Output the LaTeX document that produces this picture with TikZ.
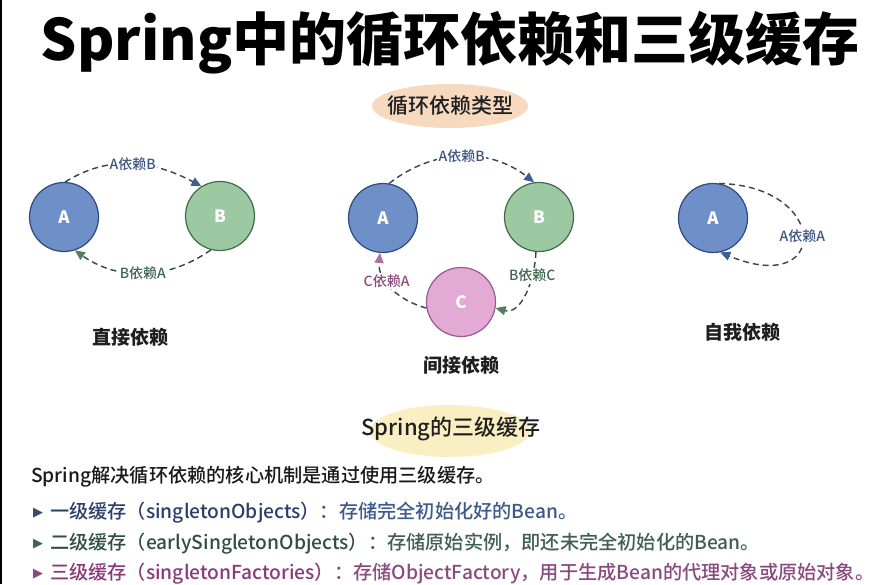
\documentclass[tikz,border=0pt]{standalone}
\usepackage{fontspec}
\setmainfont{Noto Sans CJK SC}
\setsansfont{Noto Sans CJK SC}
\newfontfamily\med{Noto Sans CJK SC Medium}
\newfontfamily\dejavu{DejaVu Sans}
\usetikzlibrary{arrows.meta,shapes.geometric}
\definecolor{blueFill}{HTML}{6F8FC8}
\definecolor{blueLine}{HTML}{2E4A80}
\definecolor{greenFill}{HTML}{9DC9A2}
\definecolor{greenLine}{HTML}{3F6B4A}
\definecolor{pinkFill}{HTML}{E3AAD6}
\definecolor{pinkLine}{HTML}{9A5A8E}
\definecolor{dashGray}{HTML}{3A4250}
\definecolor{blueTip}{HTML}{3E5F95}
\definecolor{greenTip}{HTML}{4F7F5C}
\definecolor{pinkTip}{HTML}{B06FA0}
\definecolor{blueText}{HTML}{3D5580}
\definecolor{greenText}{HTML}{3F6650}
\definecolor{pinkText}{HTML}{8A4A7E}
\definecolor{peach}{HTML}{F6D9BF}
\definecolor{cream}{HTML}{FAEFC2}
\definecolor{navy}{HTML}{2B3F6B}
\definecolor{slate}{HTML}{3E5A8A}
\definecolor{dkgreen}{HTML}{2F4F3F}
\definecolor{mdgreen}{HTML}{3F5F50}
\definecolor{purp}{HTML}{8A3A7A}
\definecolor{purp2}{HTML}{8A4A7E}
\definecolor{triCol}{HTML}{3A4A6A}
\newcommand\tri[1]{\raisebox{1.5pt}{\dejavu\fontsize{13}{14}\selectfont\textcolor{#1}{▶}}\hspace{7pt}}
\begin{document}
\begin{tikzpicture}[x=1pt,y=-1pt,
  bean/.style={circle, minimum size=69pt, inner sep=0pt, line width=1.2pt,
    font=\bfseries\fontsize{17}{20}\selectfont, text=white},
  dep/.style={dash pattern=on 6pt off 4pt, line width=1.4pt, draw=dashGray},
  tipB/.style={-{Triangle[length=10pt,width=9pt,color=blueTip]}},
  tipG/.style={-{Triangle[length=10pt,width=9pt,color=greenTip]}},
  tipP/.style={-{Triangle[length=10pt,width=9pt,color=pinkTip]}},
  lab/.style={fill=white, inner sep=1.5pt, font=\med\fontsize{14}{16}\selectfont},
  caption/.style={font=\bfseries\fontsize{19}{22}\selectfont, text=black!88},
  headbg/.style={ellipse, inner sep=0pt},
  head/.style={inner sep=0pt, text=black!88},
  body/.style={anchor=base west, inner sep=0pt, font=\med\fontsize{19.2}{20}\selectfont}
]
\useasboundingbox (0,0) rectangle (874,584);
\fill[white] (0,0) rectangle (874,584);
\draw[line width=1.5pt, black] (0.75,0) -- (0.75,584);

\node[font=\bfseries\fontsize{57}{62}\selectfont, text=black] (title) at (450,43) {Spring中的循环依赖和三级缓存};

% header 1
\node[headbg, fill=peach, minimum width=156pt, minimum height=44pt] (h1bg) at (450,106) {};
\node[head, font=\med\fontsize{21}{24}\selectfont] (h1) at (h1bg) {循环依赖类型};

% direct
\node[bean, fill=blueFill, draw=blueLine] (A1) at (64,217) {A};
\node[bean, fill=greenFill, draw=greenLine] (B1) at (220,216) {B};
\draw[dep, tipB] (A1.88) to[out=32,in=152] node[lab, text=blueText, pos=0.5] {A依赖B} (B1.122);
\draw[dep, tipG] (B1.255) to[out=215,in=-35] node[lab, text=greenText, pos=0.5] {B依赖A} (A1.288);
\node[caption] (c1) at (130,337) {直接依赖};

% indirect
\node[bean, fill=blueFill, draw=blueLine] (A2) at (383,218) {A};
\node[bean, fill=greenFill, draw=greenLine] (B2) at (539,217) {B};
\node[bean, fill=pinkFill, draw=pinkLine] (C2) at (461,302) {C};
\draw[dep, tipB] (A2.80) to[out=38,in=142] node[lab, text=blueText, pos=0.5] {A依赖B} (B2.98);
\draw[dep, tipG] (B2.265) to[out=-92,in=-15] node[lab, text=greenText, pos=0.28] {B依赖C} (C2.-10);
\draw[dep, tipP] (C2.190) to[out=165,in=-95] node[lab, text=pinkText, pos=0.62] {C依赖A} (A2.265);
\node[caption] (c2) at (461,365) {间接依赖};

% self
\node[bean, fill=blueFill, draw=blueLine] (A3) at (713,218) {A};
\draw[dep, tipB] (A3.80) .. controls (830,186) and (830,298) .. node[lab, text=blueText, pos=0.5] {A依赖A} (A3.282);
\node[caption] (c3) at (742,332) {自我依赖};

% header 2
\node[headbg, fill=cream, minimum width=160pt, minimum height=52pt] (h2bg) at (450,431) {};
\node[head, font=\med\fontsize{22}{24}\selectfont] (h2) at (451,429) {Spring的三级缓存};

% body text
\node[body, text=black!90] (l1) at (31,482) {Spring解决循环依赖的核心机制是通过使用三级缓存。};
\node[body] (l2) at (33,518) {\tri{triCol}\textcolor{navy}{一级缓存（singletonObjects）}\textcolor{slate}{：存储完全初始化好的Bean。}};
\node[body] (l3) at (33,549) {\tri{greenText}\textcolor{dkgreen}{二级缓存（earlySingletonObjects）}\textcolor{mdgreen}{：存储原始实例，即还未完全初始化的Bean。}};
\node[body] (l4) at (33,579) {\tri{pinkText}\textcolor{purp}{三级缓存（singletonFactories）}\textcolor{purp2}{：存储ObjectFactory，用于生成Bean的代理对象或原始对象。}};
\end{tikzpicture}
\end{document}
